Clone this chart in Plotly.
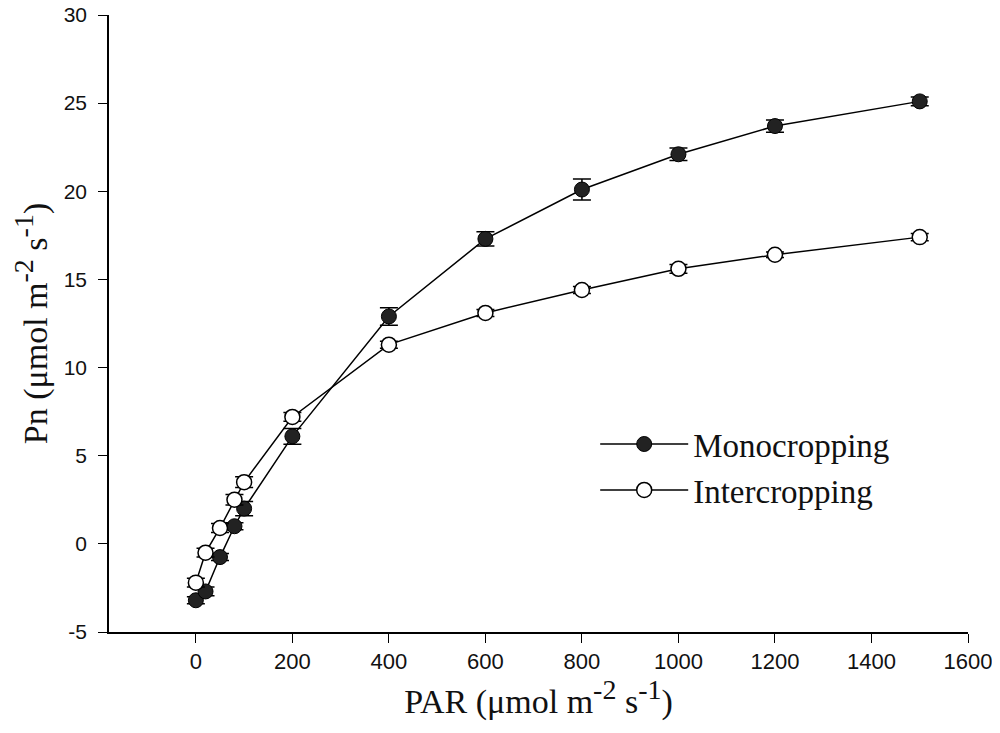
import plotly.graph_objects as go

par = [0, 20, 50, 80, 100, 200, 400, 600, 800, 1000, 1200, 1500]

mono_pn = [-3.2, -2.7, -0.75, 1.0, 2.0, 6.1, 12.9, 17.3, 20.1, 22.1, 23.7, 25.1]
mono_err = [0.2, 0.25, 0.2, 0.2, 0.4, 0.45, 0.5, 0.4, 0.6, 0.35, 0.35, 0.25]

inter_pn = [-2.2, -0.5, 0.9, 2.5, 3.5, 7.2, 11.3, 13.1, 14.4, 15.6, 16.4, 17.4]
inter_err = [0.25, 0.25, 0.25, 0.3, 0.3, 0.25, 0.2, 0.2, 0.2, 0.25, 0.15, 0.2]

x_ticks = [0, 200, 400, 600, 800, 1000, 1200, 1400, 1600]
y_ticks = [-5, 0, 5, 10, 15, 20, 25, 30]
y_labels = ["-5", "0", "5", "10", "15", "20", "25", "30"]

serif = "Liberation Serif, Times New Roman, serif"
sans = "Liberation Sans, Arial, sans-serif"
sup = "<sup><span style='font-size:28px'>%s</span></sup>"
unit = "(μmol m" + sup % "-2" + " s" + sup % "-1" + ")"

fig = go.Figure()

fig.add_trace(go.Scatter(
    x=par, y=mono_pn, name="Monocropping",
    mode="lines+markers",
    line=dict(color="#000000", width=1.5),
    marker=dict(symbol="circle", size=15, color="#222222",
                line=dict(color="#000000", width=1)),
    error_y=dict(type="data", array=mono_err, color="#000000",
                 thickness=1.5, width=9),
))
fig.add_trace(go.Scatter(
    x=par, y=inter_pn, name="Intercropping",
    mode="lines+markers",
    line=dict(color="#000000", width=1.5),
    marker=dict(symbol="circle", size=15, color="#ffffff",
                line=dict(color="#000000", width=1.5)),
    error_y=dict(type="data", array=inter_err, color="#000000",
                 thickness=1.5, width=9),
))

# page body adds an 8px offset, margins account for it
fig.update_layout(
    width=1000, height=733,
    paper_bgcolor="white", plot_bgcolor="white",
    margin=dict(l=101, r=40, t=7, b=109),
    showlegend=True,
    legend=dict(x=0.566, y=0.35, xanchor="left", yanchor="top",
                itemwidth=88,
                font=dict(family=serif, size=33, color="#111111"),
                bgcolor="rgba(0,0,0,0)", tracegroupgap=0),
    xaxis=dict(
        range=[-180, 1600], tickvals=x_ticks, automargin=False,
        showline=True, linecolor="#000000", linewidth=1.5,
        ticks="outside", ticklen=9, tickwidth=1.2, tickcolor="#000000",
        ticklabeloverflow="allow",
        showgrid=False, zeroline=False,
        tickfont=dict(family=sans, size=22, color="#111111"),
        title=dict(text="PAR " + unit,
                   font=dict(family=serif, size=34, color="#111111"), standoff=12),
    ),
    yaxis=dict(
        range=[-5, 30], tickvals=y_ticks, ticktext=y_labels, automargin=False,
        showline=True, linecolor="#000000", linewidth=1.5,
        ticks="outside", ticklen=9, tickwidth=1.2, tickcolor="#000000",
        ticklabelstandoff=7, ticklabeloverflow="allow",
        showgrid=False, zeroline=False,
        tickfont=dict(family=sans, size=21, color="#111111"),
        title=dict(text="Pn " + unit,
                   font=dict(family=serif, size=34, color="#111111"), standoff=14),
    ),
)

fig.write_html("out.html")
